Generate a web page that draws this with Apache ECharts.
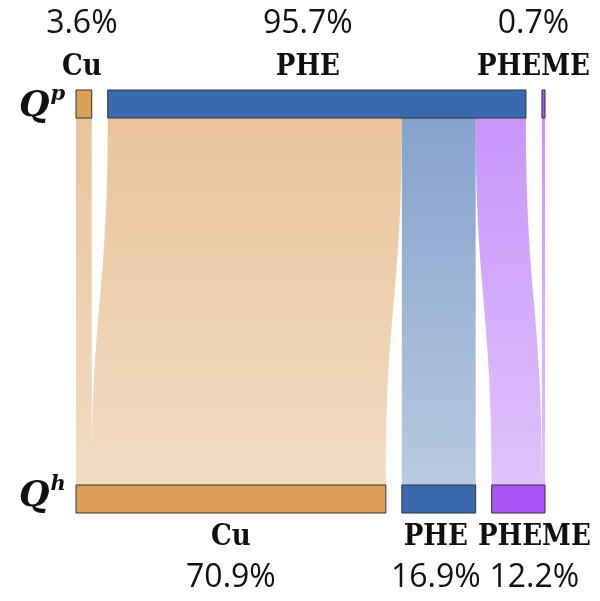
<!DOCTYPE html>
<html>
<head>
<meta charset="utf-8">
<script src="https://cdn.jsdelivr.net/npm/echarts@6/dist/echarts.min.js"></script>
<style>html,body{margin:0;padding:0;background:#fff}#c{width:600px;height:601px}</style>
</head>
<body>
<div id="c"></div>
<script>
const topNames = ['Cu', 'PHE', 'PHEME'];
const topPct = [3.6, 95.7, 0.7];
const bottomNames = ['Cu', 'PHE', 'PHEME'];
const bottomPct = [70.9, 16.9, 12.2];
const nodeColors = ['#dc9f5a', '#3a6aae', '#a855f7'];
const flowSource = [0, 1, 1, 1, 2];
const flowTarget = [0, 0, 1, 2, 2];
const flowValue = [3.6, 67.3, 16.9, 11.5, 0.7];
const topLabelOffset = [-2, -9, -10];
const bottomLabelOffset = [0, -3, 16];

function rgba(hex, a) {
  const n = parseInt(hex.slice(1), 16);
  return 'rgba(' + ((n >> 16) & 255) + ',' + ((n >> 8) & 255) + ',' + (n & 255) + ',' + a + ')';
}

const serif = '"DejaVu Serif Condensed", "DejaVu Serif", serif';
const richStyle = {
  pct: { fontFamily: '"Open Sans"', fontWeight: 500, fontSize: 32, color: '#111', lineHeight: 42 },
  nm: { fontFamily: serif, fontWeight: 'bold', fontSize: 29, color: '#111', lineHeight: 42, padding: [4, 0, 0, 0] }
};

const nodes = [];
topNames.forEach((n, i) => nodes.push({
  name: 'p_' + n, depth: 0,
  itemStyle: { color: nodeColors[i] },
  label: { position: 'top', distance: 3, offset: [topLabelOffset[i], 0],
    formatter: '{pct|' + topPct[i].toFixed(1) + '%}\n{nm|' + n + '}' }
}));
bottomNames.forEach((n, i) => nodes.push({
  name: 'h_' + n, depth: 1,
  itemStyle: { color: nodeColors[i] },
  label: { position: 'bottom', distance: 1, offset: [bottomLabelOffset[i], 0],
    formatter: '{nm|' + n + '}\n{pct|' + bottomPct[i].toFixed(1) + '%}' }
}));

const links = flowValue.map((v, k) => {
  const c = nodeColors[flowTarget[k]];
  return {
    source: 'p_' + topNames[flowSource[k]],
    target: 'h_' + bottomNames[flowTarget[k]],
    value: v,
    lineStyle: {
      color: new echarts.graphic.LinearGradient(0, 0, 0, 1, [
        { offset: 0, color: rgba(c, 0.62) },
        { offset: 1, color: rgba(c, 0.36) }
      ]),
      opacity: 1
    }
  };
});

const qRich = {
  q: { fontFamily: '"DejaVu Serif"', fontStyle: 'italic', fontWeight: 'bold', fontSize: 35, fill: '#111', verticalAlign: 'bottom', lineHeight: 40 },
  s: { fontFamily: '"DejaVu Serif"', fontStyle: 'italic', fontWeight: 'bold', fontSize: 21, fill: '#111', verticalAlign: 'top', lineHeight: 40, padding: [0, 0, 16, 1] }
};

const chart = echarts.init(document.getElementById('c'), null, { renderer: 'canvas' });
chart.setOption({
  animation: false,
  backgroundColor: '#fff',
  series: [{
    type: 'sankey',
    orient: 'vertical',
    left: 76, right: 55, top: 90, bottom: 88,
    nodeWidth: 28,
    nodeGap: 16,
    layoutIterations: 0,
    draggable: false,
    emphasis: { disabled: true },
    itemStyle: { borderColor: '#333', borderWidth: 1 },
    lineStyle: { curveness: 0.5 },
    label: { show: true, align: 'center', rich: richStyle },
    data: nodes,
    links: links
  }],
  graphic: [
    { type: 'text', left: 19, top: 84, style: { text: '{q|Q}{s|p}', rich: qRich } },
    { type: 'text', left: 19, top: 474, style: { text: '{q|Q}{s|h}', rich: qRich } }
  ]
});
</script>
</body>
</html>
